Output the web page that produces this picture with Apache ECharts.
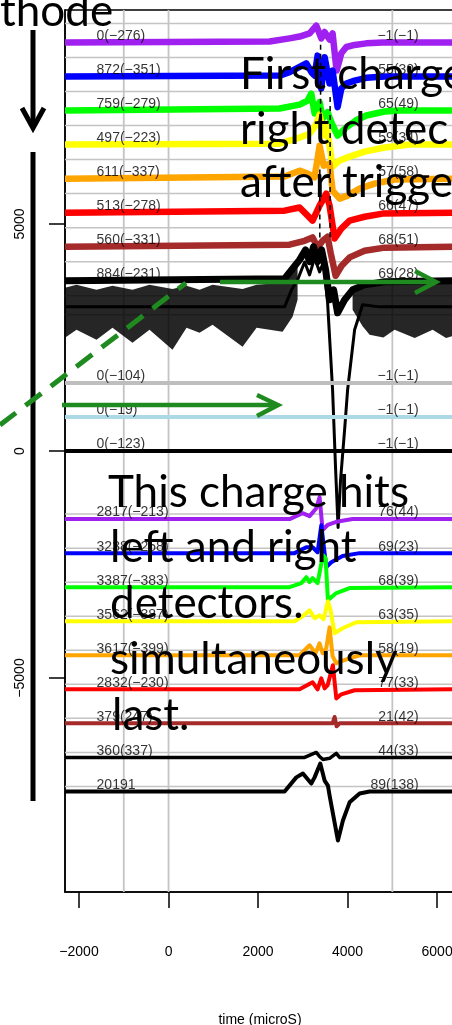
<!DOCTYPE html>
<html><head><meta charset="utf-8">
<script src="https://cdn.jsdelivr.net/npm/echarts@6/dist/echarts.min.js"></script>
<style>html,body{margin:0;padding:0;background:#fff}#c{width:452px;height:1025px}</style>
</head><body><div id="c"></div>
<script>
// ---------- axes ----------
const xTicks = [-2000, 0, 2000, 4000, 6000];
const yTicks = [-5000, 0, 5000];
const vGridTimes = [-1000, 0, 5000];
const hGridLevels = [9420, 8670, 7920, 7170, 6420, 5670, 4920, 4170, 3420, 3000,
  -1390, -2140, -2890, -3640, -4390, -5140, -5890, -6640, -7390];
const X_MIN = -2313, X_MAX = 6400, Y_MIN = -9715, Y_MAX = 9715;

// ---------- trace baselines and labels ----------
const traceOffsets = [9000, 8250, 7500, 6750, 6000, 5250, 4500, 3750, 3000, 1500, 750, 0,
  -1500, -2250, -3000, -3750, -4500, -5250, -6000, -6750, -7500];
const labelOffsets = [9000, 8250, 7500, 6750, 6000, 5250, 4500, 3750, 1500, 750, 0,
  -1500, -2250, -3000, -3750, -4500, -5250, -6000, -6750, -7500];
const leftLabels = ['0(\u2212276)', '872(\u2212351)', '759(\u2212279)', '497(\u2212223)', '611(\u2212337)',
  '513(\u2212278)', '560(\u2212331)', '884(\u2212231)', '0(\u2212104)', '0(\u221219)', '0(\u2212123)',
  '2817(\u2212213)', '3238(\u2212258)', '3387(\u2212383)', '3562(\u2212387)', '3617(\u2212399)',
  '2832(\u2212230)', '379(247)', '360(337)', '20191'];
const rightLabels = ['\u22121(\u22121)', '55(30)', '65(49)', '59(34)', '57(58)', '66(47)', '68(51)', '69(28)',
  '\u22121(\u22121)', '\u22121(\u22121)', '\u22121(\u22121)',
  '76(44)', '69(23)', '68(39)', '63(35)', '58(19)', '77(33)', '21(42)', '44(33)', '89(138)'];
const labelTimeLeft = -1609, labelTimeRight = 5590, labelLift = 143;

// ---------- waveforms: [time microS, value relative to trace baseline] ----------
const purpleTop = [[-2313,0],[2257,20],[2704,90],[2928,130],[3151,200],[3301,370],[3413,90],[3487,230],[3598,65],[3665,200],[3755,-620],[3860,-240],[3972,-100],[4157,-55],[4418,-20],[4783,0],[6400,0]];
const blueTop = [[-2313,0],[2481,20],[2704,95],[3078,290],[3196,90],[3263,20],[3330,460],[3413,-265],[3487,425],[3598,-155],[3665,130],[3777,-675],[3860,-265],[3972,-155],[4157,-90],[4418,-30],[4828,0],[6400,0]];
const greenTop = [[-2313,0],[2481,45],[2928,130],[3107,220],[3189,375],[3263,-65],[3375,185],[3442,-175],[3554,-35],[3636,-255],[3777,-550],[3972,-370],[4180,-220],[4418,-110],[4828,-20],[5163,0],[6400,0]];
const yellowTop = [[-2313,0],[2481,20],[2928,155],[3151,240],[3285,420],[3375,660],[3465,200],[3532,420],[3665,-485],[3822,-350],[4045,-265],[4380,-155],[4828,-65],[5386,0],[6400,0]];
const orangeTop = [[-2313,0],[2593,45],[2928,175],[3062,130],[3263,30],[3375,725],[3465,285],[3598,330],[3665,-265],[3822,-440],[4000,-375],[4269,-220],[4604,-110],[5051,-20],[6400,0]];
const redTop = [[-2313,0],[2593,45],[2928,115],[3218,-175],[3375,155],[3524,420],[3598,155],[3710,-570],[3860,-350],[4045,-175],[4380,-90],[4783,-20],[6400,0]];
const brownTop = [[-2313,0],[2704,45],[3040,130],[3218,205],[3330,-15],[3442,130],[3554,220],[3621,-130],[3733,-640],[3867,-420],[4045,-235],[4380,-90],[4828,-20],[6400,0]];
const black884 = [[-2313,0],[2593,45],[2838,350],[2928,460],[3062,680],[3151,420],[3240,750],[3330,420],[3420,680],[3510,240],[3598,-420],[3688,-200],[3777,-705],[3933,-420],[4112,-200],[4380,-90],[4828,-20],[6400,0]];
const wideCenter = [[-2313,175],[2593,175],[2749,550],[2883,770],[3040,1165],[3151,880],[3263,1255],[3375,945],[3465,1165],[3554,265],[3665,-1650],[3733,-3410],[3788,-4685],[3844,-3630],[3934,-2530],[4001,-1650],[4157,-330],[4336,220],[4716,175],[6400,175]];
// noise envelope of the wide black trace: [time, upper, lower]
const wideBandLeft = [[-2313,595,-505],[-2056,660,-330],[-1609,550,-550],[-1252,640,-285],[-805,550,-615],[-425,660,-330],[89,570,-770],[402,640,-285],[693,550,-395],[983,660,-220],[1654,570,-705],[1967,660,-285],[2548,705,-375],[2771,945,-45],[2883,1100,330]];
const wideBandRight = [[4112,550,110],[4336,700,-250],[4492,725,-440],[4800,700,-500],[5050,725,-330],[5500,705,-510],[5900,660,-330],[6200,725,-510],[6400,700,-450]];
const grayMid = [[-2313,0],[6400,0]];
const lightblueMid = [[-2313,0],[6400,0]];
const blackZero = [[-2313,0],[6400,0]];
const purpleLow = [[-2313,0],[2704,0],[2995,130],[3151,65],[3301,240],[3375,485],[3442,-240],[3554,-130],[3748,-60],[4112,0],[6400,0]];
const blueLow = [[-2313,0],[2816,0],[3078,130],[3218,130],[3330,20],[3413,615],[3524,-310],[3636,-200],[3889,-65],[4269,0],[6400,0]];
const greenLow = [[-2313,0],[2704,0],[2966,90],[3078,220],[3151,110],[3218,200],[3330,90],[3449,705],[3509,640],[3561,-285],[3748,-130],[4045,-20],[6400,0]];
const yellowLow = [[-2313,0],[2816,0],[2995,110],[3151,240],[3263,65],[3375,130],[3465,45],[3561,440],[3621,240],[3710,-265],[3889,-155],[4202,-20],[6400,0]];
const orangeLow = [[-2313,0],[2928,0],[3151,220],[3285,45],[3375,265],[3442,45],[3524,155],[3598,615],[3665,-20],[3748,-175],[3972,-90],[4269,0],[6400,0]];
const redLow = [[-2313,0],[2928,0],[3218,155],[3330,0],[3413,240],[3487,20],[3554,90],[3672,530],[3748,-200],[3860,-110],[4157,-20],[6400,0]];
const brownLow = [[-2313,0],[3665,0],[3710,140],[3755,-65],[3822,0],[6400,0]];
const blackLow1 = [[-2313,0],[3040,0],[3301,110],[3375,20],[3449,-45],[3598,-20],[3748,90],[3822,0],[6400,0]];
const blackLow2 = [[-2313,0],[2593,0],[2854,310],[3002,395],[3189,175],[3263,310],[3390,615],[3487,240],[3561,130],[3598,-90],[3784,-1080],[3896,-640],[4045,-240],[4269,-45],[4492,0],[6400,0]];
// dashed timing markers: [time, from, to]
const timingMarks = [[3397,8950,7300],[3380,6200,4650],[3610,7800,4650]];

// ---------- build ----------
const traceDefs = [
  [purpleTop,'#A020F0',6.5],[blueTop,'#0000FF',6.5],[greenTop,'#00FF00',6.5],[yellowTop,'#FFFF00',6.5],
  [orangeTop,'#FFA500',6.5],[redTop,'#FF0000',6.5],[brownTop,'#A52A2A',6.5],[black884,'#000000',7],
  [wideCenter,'#000000',3],[grayMid,'#BEBEBE',4],[lightblueMid,'#ADD8E6',4],[blackZero,'#000000',4],
  [purpleLow,'#A020F0',4],[blueLow,'#0000FF',4],[greenLow,'#00FF00',4],[yellowLow,'#FFFF00',4],
  [orangeLow,'#FFA500',4],[redLow,'#FF0000',4],[brownLow,'#A52A2A',4],[blackLow1,'#000000',3.5],[blackLow2,'#000000',4]
];
const FONT = "'Liberation Sans', Arial, sans-serif";
const minus = v => (v < 0 ? '\u2212' + (-v) : String(v));

const series = [];
series.push({
  type:'custom', z:1, silent:true,
  data: hGridLevels.map(v => [X_MIN, v]),
  renderItem: (p, api) => {
    const a = api.coord([X_MIN, api.value(1)]), b = api.coord([X_MAX, api.value(1)]);
    return {type:'line', shape:{x1:a[0],y1:a[1],x2:b[0],y2:b[1]}, style:{stroke:'#c4c4c4', lineWidth:1.5}};
  }
});
series.push({
  type:'custom', z:1, silent:true,
  data: vGridTimes.map(t => [t, Y_MIN]),
  renderItem: (p, api) => {
    const a = api.coord([api.value(0), Y_MIN]), b = api.coord([api.value(0), Y_MAX]);
    return {type:'line', shape:{x1:a[0],y1:a[1],x2:b[0],y2:b[1]}, style:{stroke:'#c4c4c4', lineWidth:1.8}};
  }
});
const bands = [wideBandLeft, wideBandRight];
const wideOff = traceOffsets[8];
series.push({
  type:'custom', z:2, silent:true,
  data: [[0,0],[1,0]],
  renderItem: (p, api) => {
    const seg = bands[p.dataIndex];
    const pts = seg.map(r => api.coord([r[0], wideOff + r[1]]))
      .concat(seg.slice().reverse().map(r => api.coord([r[0], wideOff + r[2]])));
    return {type:'polygon', shape:{points:pts}, style:{fill:'#000', opacity:0.85}};
  }
});
traceDefs.forEach((d, i) => {
  series.push({
    type:'line', z:3, silent:true, symbol:'none', animation:false,
    data: d[0].map(r => [r[0], traceOffsets[i] + r[1]]),
    lineStyle:{color:d[1], width:d[2], join:'round'}
  });
});
const labelStyle = {show:true, color:'#000', fontSize:14, fontFamily:FONT, distance:0};
series.push({
  type:'scatter', z:4, silent:true, symbolSize:0.1, itemStyle:{color:'rgba(0,0,0,0)'},
  data: labelOffsets.map((o, i) => [labelTimeLeft, o + labelLift, leftLabels[i]]),
  label:Object.assign({position:'right', formatter:p => p.data[2]}, labelStyle)
});
series.push({
  type:'scatter', z:4, silent:true, symbolSize:0.1, itemStyle:{color:'rgba(0,0,0,0)'},
  data: labelOffsets.map((o, i) => [labelTimeRight, o + labelLift, rightLabels[i]]),
  label:Object.assign({position:'left', formatter:p => p.data[2]}, labelStyle)
});
series.push({
  type:'custom', z:5, silent:true,
  data: timingMarks,
  renderItem: (p, api) => {
    const a = api.coord([api.value(0), api.value(1)]), b = api.coord([api.value(0), api.value(2)]);
    return {type:'line', shape:{x1:a[0],y1:a[1],x2:b[0],y2:b[1]}, style:{stroke:'#000', lineWidth:1.5, lineDash:[5,4]}};
  }
});

const GREEN = '#1f8a1f';
const BIG = "44px Lato, 'Open Sans', sans-serif";
function bigText(txt, x, baseline) {
  return {type:'text', x:x, y:baseline - 17, z:100, style:{text:txt, font:BIG, fill:'#000', verticalAlign:'middle', align:'left'}};
}
function seg(x1, y1, x2, y2, color, w, dash) {
  return {type:'line', z:100, shape:{x1,y1,x2,y2}, style:{stroke:color, lineWidth:w, lineDash:dash || null, lineCap:'butt'}};
}
function chevron(pts, color, w) {
  return {type:'polyline', z:100, shape:{points:pts}, style:{stroke:color, lineWidth:w, fill:null, lineJoin:'miter'}};
}

const option = {
  animation:false,
  backgroundColor:'#fff',
  grid:{left:65, top:10, width:390, height:882, outerBoundsMode:'none', containLabel:false,
    show:true, borderColor:'#000', borderWidth:1.5, backgroundColor:'transparent'},
  xAxis:{
    type:'value', min:X_MIN, max:X_MAX,
    name:'time (microS)', nameLocation:'middle', nameGap:121,
    nameTextStyle:{color:'#000', fontSize:14, fontFamily:FONT},
    axisLine:{show:true, onZero:false, lineStyle:{color:'#000', width:1.5}},
    axisTick:{show:true, length:16, inside:false, customValues:xTicks, lineStyle:{color:'#000', width:1.5}},
    axisLabel:{show:true, customValues:xTicks, margin:53, color:'#000', fontSize:14, fontFamily:FONT, formatter:minus},
    splitLine:{show:false}
  },
  yAxis:{
    type:'value', min:Y_MIN, max:Y_MAX,
    axisLine:{show:true, onZero:false, lineStyle:{color:'#000', width:1.5}},
    axisTick:{show:true, length:16, inside:false, customValues:yTicks, lineStyle:{color:'#000', width:1.5}},
    axisLabel:{show:true, customValues:yTicks, rotate:90, margin:38, color:'#000', fontSize:14, fontFamily:FONT, formatter:minus},
    splitLine:{show:false}
  },
  series:series,
  graphic:[
    bigText('thode', 0, 29),
    seg(33, 30, 33, 126, '#000', 5),
    chevron([[22,108],[33,128],[44,108]], '#000', 5),
    seg(33, 152, 33, 801, '#000', 5),
    bigText('First charge', 240, 92),
    bigText('right detec', 240, 147),
    bigText('after trigge', 240, 200),
    seg(0, 425, 186, 283, GREEN, 5, [20, 12]),
    seg(220, 282, 434, 282, GREEN, 4.5),
    chevron([[415,271],[436,282],[415,293]], GREEN, 4.5),
    seg(62, 405, 276, 405, GREEN, 4.5),
    chevron([[257,395],[278,405],[257,416]], GREEN, 4.5),
    bigText('This charge hits', 108, 510),
    bigText('left and right', 110, 565),
    bigText('detectors.', 110, 621),
    bigText('simultaneously', 110, 677),
    bigText('last.', 112, 733)
  ]
};
const chart = echarts.init(document.getElementById('c'));
chart.setOption(option);
</script>
</body></html>
